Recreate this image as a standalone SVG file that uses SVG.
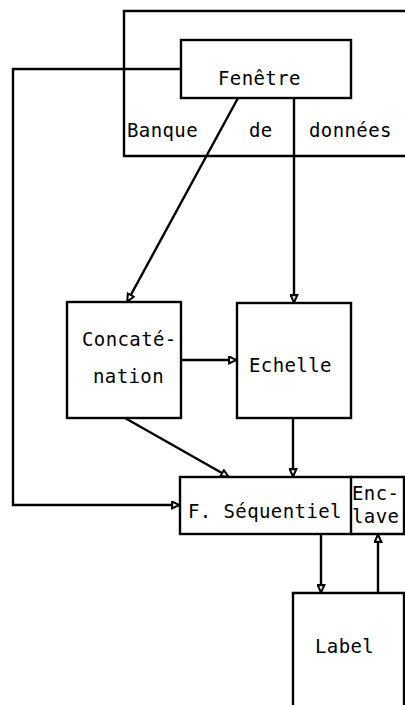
<svg xmlns="http://www.w3.org/2000/svg" width="405" height="705" viewBox="0 0 405 705">
<defs>
<marker id="ah" viewBox="0 0 8 8" refX="8" refY="4" markerWidth="9" markerHeight="9" markerUnits="userSpaceOnUse" orient="auto">
<path d="M1,1 L7.5,4 L1,7 Z" fill="#fff" stroke="#000" stroke-width="1.8"/>
</marker>
</defs>
<style>
.b{fill:none;stroke:#000;stroke-width:2.4}
.c{fill:none;stroke:#000;stroke-width:2.4}
text{font-family:"DejaVu Sans Mono","Liberation Mono",monospace;font-size:19px;letter-spacing:0.4px;fill:#000}
</style>
<rect width="405" height="705" fill="#fff"/>
<g id="banque">
<path class="b" d="M405,11 H124 V156 H405"/>
<text x="127" y="137">Banque</text>
<text x="249" y="137">de</text>
<text x="309" y="137">données</text>
</g>
<g id="fenetre">
<rect class="b" x="181" y="40" width="170" height="58"/>
<text x="218" y="85">Fenêtre</text>
</g>
<g id="concatenation">
<rect class="b" x="67" y="302" width="114" height="116"/>
<text x="82" y="346">Concaté-</text>
<text x="93" y="383">nation</text>
</g>
<g id="echelle">
<rect class="b" x="237" y="303" width="114" height="115"/>
<text x="249" y="372">Echelle</text>
</g>
<g id="fsequentiel">
<rect class="b" x="180" y="477" width="171" height="57"/>
<text x="188" y="518">F. Séquentiel</text>
</g>
<g id="enclave">
<path class="b" d="M351,477 H404 V534 H351"/>
<text x="352" y="500">Enc-</text>
<text x="352" y="523">lave</text>
</g>
<g id="label">
<path class="b" d="M293,705 V593 H404 V705"/>
<text x="315" y="653">Label</text>
</g>
<g id="connectors">
<path class="c" d="M181,69 H13 V505 H180" marker-end="url(#ah)"/>
<path class="c" d="M238,98 L127,302" marker-end="url(#ah)"/>
<path class="c" d="M294,98 V303" marker-end="url(#ah)"/>
<path class="c" d="M181,360 H237" marker-end="url(#ah)"/>
<path class="c" d="M125,418 L229,477" marker-end="url(#ah)"/>
<path class="c" d="M293,418 V477" marker-end="url(#ah)"/>
<path class="c" d="M321,534 V593" marker-end="url(#ah)"/>
<path class="c" d="M378,593 V534" marker-end="url(#ah)"/>
</g>
</svg>
